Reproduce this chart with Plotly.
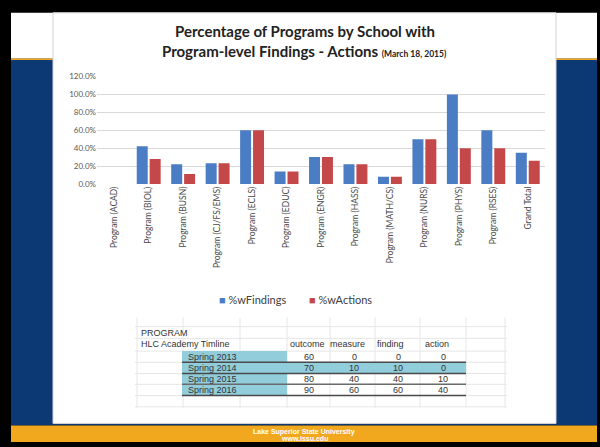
import plotly.graph_objects as go

# ---------------- data ----------------
categories = ["Program (ACAD)", "Program (BIOL)", "Program (BUSN)", "Program (CJ/FS/EMS)",
              "Program (ECLS)", "Program (EDUC)", "Program (ENGR)", "Program (HASS)",
              "Program (MATH/CS)", "Program (NURS)", "Program (PHYS)", "Program (RSES)",
              "Grand Total"]
findings = [0, 42, 22, 23, 60, 14, 30, 22, 8, 50, 100, 60, 35]
actions = [0, 28, 11, 23, 60, 14, 30, 22, 8, 50, 40, 40, 26]
series_names = ["%wFindings", "%wActions"]
y_ticks = [0, 20, 40, 60, 80, 100, 120]

table_title = "PROGRAM"
table_subtitle = "HLC Academy Timline"
table_columns = ["outcome", "measure", "finding", "action"]
terms = ["Spring 2013", "Spring 2014", "Spring 2015", "Spring 2016"]
outcome = [60, 70, 80, 90]
measure = [0, 10, 40, 60]
finding = [0, 10, 40, 60]
action = [0, 0, 10, 40]

# ---------------- helpers ----------------
W, H = 600, 447
def px(x): return x / W
def py(y): return 1 - y / H

BLUE = "#4A7DC4"
RED = "#C4484A"
NAVY = "#0C3874"
GOLD = "#F2A81E"

shapes = []
def rect(x0, y0, x1, y1, fill, line=None, lw=0, layer="below"):
    shapes.append(dict(type="rect", xref="paper", yref="paper",
                       x0=px(x0), x1=px(x1), y0=py(y1), y1=py(y0),
                       fillcolor=fill, line=dict(color=line or fill, width=lw), layer=layer))
def hline(x0, x1, y, color, w=1, layer="above"):
    shapes.append(dict(type="line", xref="paper", yref="paper",
                       x0=px(x0), x1=px(x1), y0=py(y), y1=py(y),
                       line=dict(color=color, width=w), layer=layer))
def vline(x, y0, y1, color, w=1, layer="above"):
    shapes.append(dict(type="line", xref="paper", yref="paper",
                       x0=px(x), x1=px(x), y0=py(y0), y1=py(y1),
                       line=dict(color=color, width=w), layer=layer))

annotations = []
def text(x, y, s, size=9, color="#333333", family="Liberation Sans", xanchor="center", bold=False):
    if bold:
        s = "<b>" + s + "</b>"
    annotations.append(dict(xref="paper", yref="paper", x=px(x), y=py(y), text=s,
                            showarrow=False, xanchor=xanchor, yanchor="middle",
                            font=dict(size=size, color=color, family=family)))

# ---------------- slide background ----------------
rect(0, 0, 600, 447, "#000000")
rect(11, 8, 597, 55, "#FFFFFF")
rect(11, 55, 597, 430, NAVY)
hline(11, 597, 55.5, GOLD, 1.5, layer="below")
rect(11, 430, 597, 447, GOLD)
# chart picture panel
rect(53, 8, 556, 428, "#FFFFFF", line="#D4D4D4", lw=1)

# ---------------- figure ----------------
fig = go.Figure()
fig.add_trace(go.Bar(x=categories, y=findings, name=series_names[0], marker_color=BLUE,
                     marker_line_width=0, showlegend=False))
fig.add_trace(go.Bar(x=categories, y=actions, name=series_names[1], marker_color=RED,
                     marker_line_width=0, showlegend=False))

# title
text(305, 27, "Percentage of Programs by School with", size=15, color="#222222",
     family="Lato", bold=True)
text(304, 47, "<b>Program-level Findings - Actions </b><b><span style='font-size:8.5px'>(March 18, 2015)</span></b>",
     size=15, color="#222222", family="Lato")

# legend (manual)
text(217, 301, "<span style='color:%s'>■</span> %s" % (BLUE, series_names[0]),
     size=11, color="#404040", family="Lato", xanchor="left")
text(307, 301, "<span style='color:%s'>■</span> %s" % (RED, series_names[1]),
     size=11, color="#404040", family="Lato", xanchor="left")

# ---------------- table ----------------
grid_x = [137, 183, 240, 287, 330, 375, 420, 466, 505]
grid_y = [329, 341, 354, 365.5, 377, 388, 399.5, 411]
for gx in grid_x:
    vline(gx, 320, 412, "#E6E6E6", 1, layer="below")
for gy in grid_y:
    hline(135, 507, gy, "#E6E6E6", 1, layer="below")

row_top = [354, 365.5, 377, 388]
row_bot = [365.5, 377, 388, 399.5]
for i in range(len(terms)):
    rect(182, row_top[i], 287, row_bot[i], "#92CDDC")
rect(287, row_top[1], 466, row_bot[1], "#92CDDC")
for gy, c in [(365.5, "#4A4A4A"), (377, "#4A4A4A"), (388, "#6A6A6A"), (399.5, "#4A4A4A")]:
    hline(182, 466, gy, c, 1.5)

text(139, 335, table_title, size=9, xanchor="left")
text(139, 347, table_subtitle, size=9, xanchor="left")
header_x = [307, 347, 390, 437]
for hx, h in zip(header_x, table_columns):
    text(hx, 347, h, size=9)
value_x = [309, 354, 398, 443]
cols = [outcome, measure, finding, action]
for i, t in enumerate(terms):
    yc = (row_top[i] + row_bot[i]) / 2
    text(186, yc, t, size=9, xanchor="left")
    for vx, col in zip(value_x, cols):
        text(vx, yc, str(col[i]), size=9)

# footer
text(304, 437, "Lake Superior State University", size=7, color="#FFFFFF", bold=True)
text(304, 443.5, "www.lssu.edu", size=7, color="#FFFFFF", bold=True)

fig.update_layout(
    width=W, height=H,
    margin=dict(l=0, r=0, t=0, b=0),
    paper_bgcolor="#000000",
    plot_bgcolor="rgba(0,0,0,0)",
    barmode="group", bargap=0.25, bargroupgap=0.15,
    shapes=shapes, annotations=annotations,
    showlegend=False,
    xaxis=dict(domain=[px(97), px(545)], showgrid=False, zeroline=False, showline=False,
               tickangle=-90, tickfont=dict(size=8.5, color="#4A4A4A", family="Lato"),
               ticks="", fixedrange=True),
    yaxis=dict(domain=[py(183), py(73.3)], range=[0, 120], tickvals=y_ticks,
               ticktext=["%.1f%%" % v for v in y_ticks],
               showgrid=True, gridcolor="#D9D9D9", gridwidth=1, zeroline=False,
               showline=False, ticks="", tickfont=dict(size=8, color="#595959", family="Lato"),
               fixedrange=True),
)

fig.write_html("out.html",
               config={"displayModeBar": False, "staticPlot": True},
               post_script="document.body.style.margin='0';document.body.style.padding='0';"
                           "document.body.style.overflow='hidden';")
